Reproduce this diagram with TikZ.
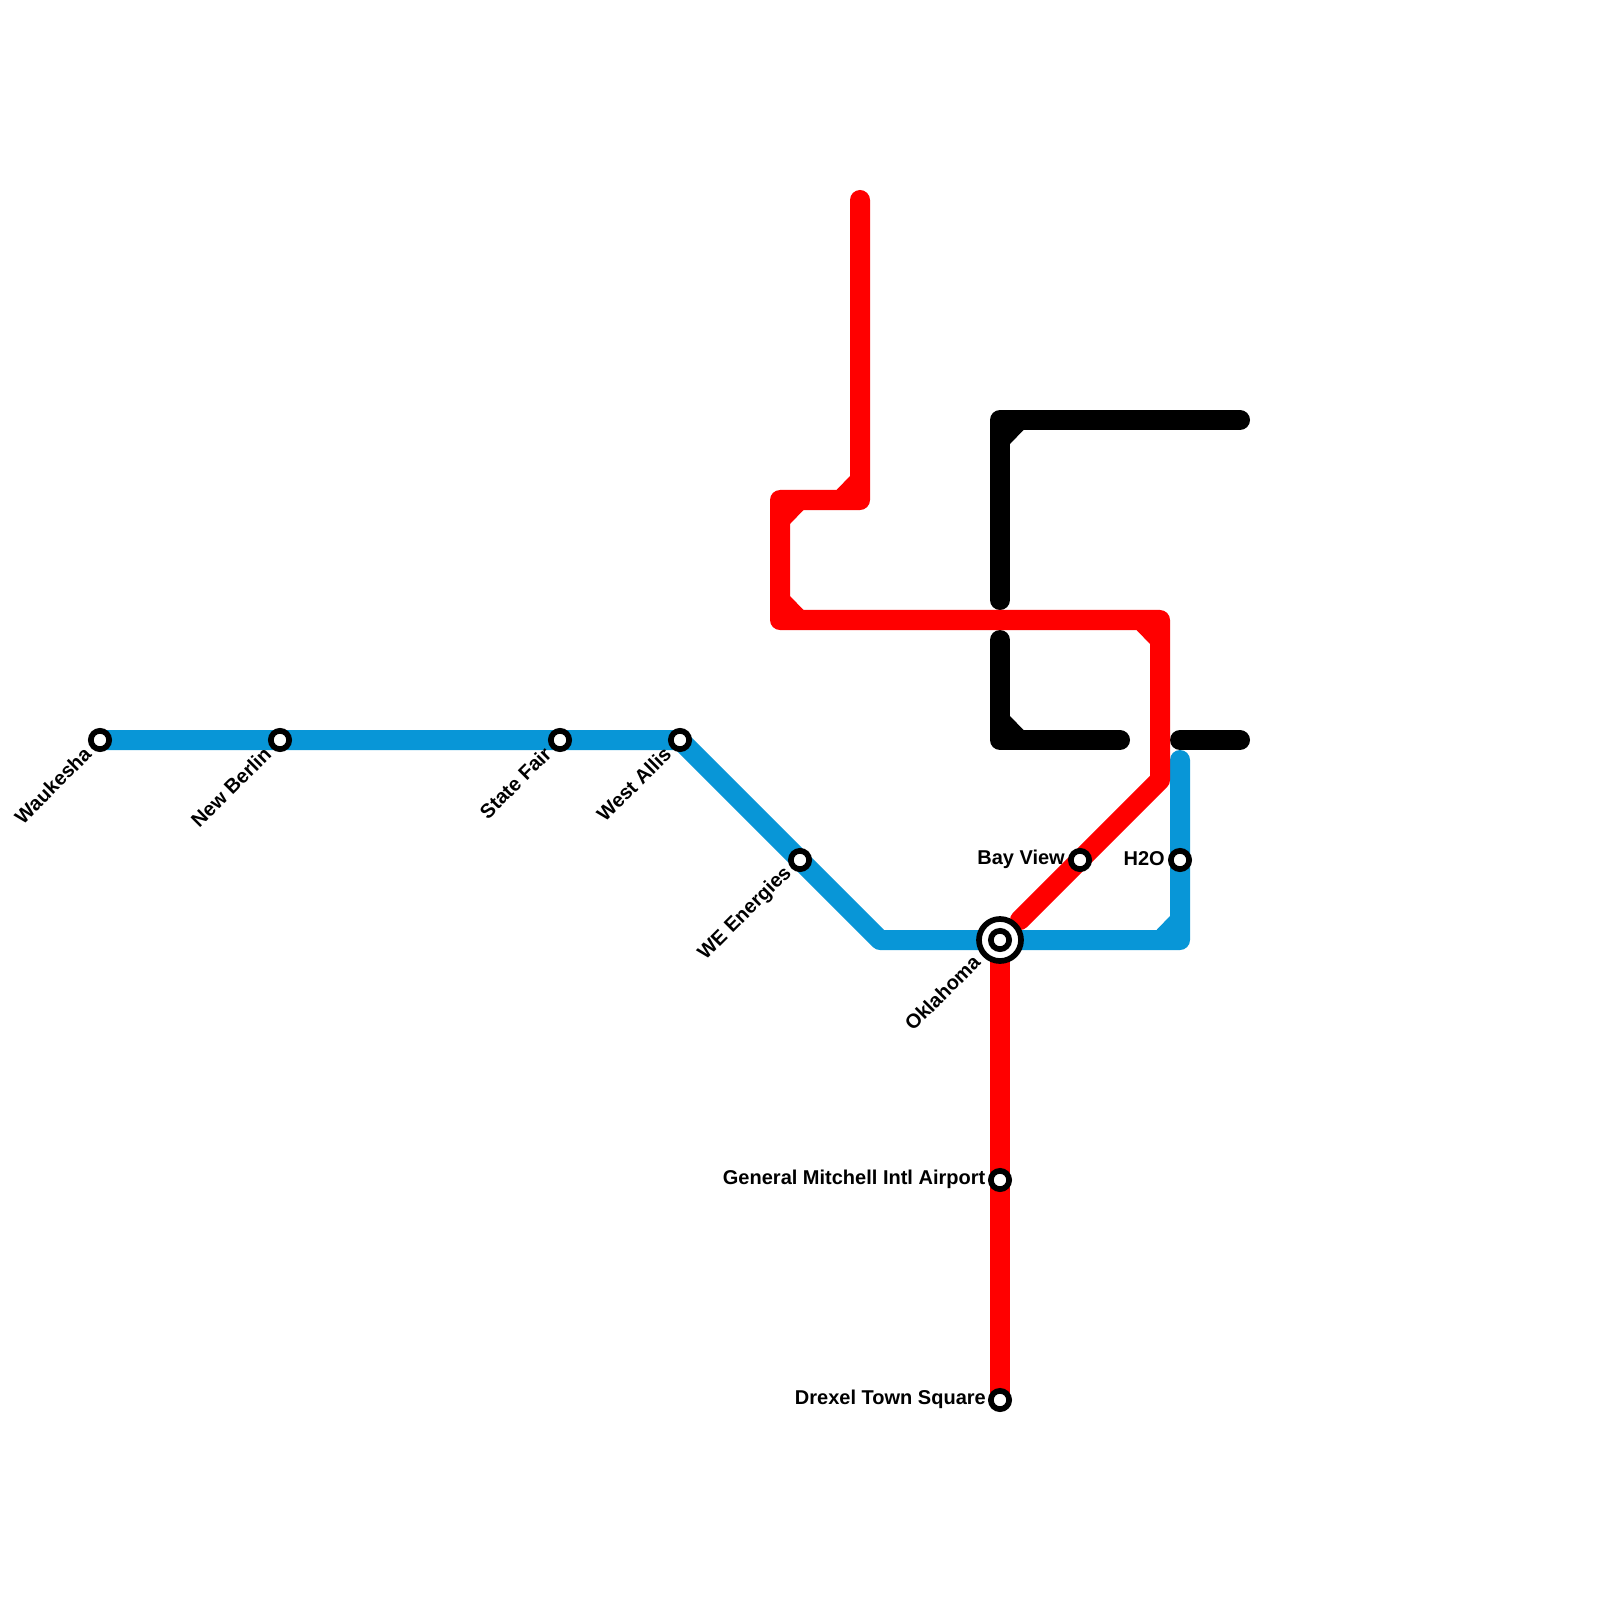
\documentclass[tikz,border=0pt]{standalone}
\usepackage{fontspec}
\setmainfont{Liberation Sans}
\usetikzlibrary{backgrounds}
\definecolor{lineblue}{HTML}{0896D7}
\tikzset{
  route/.style={line width=0.2cm,line cap=round,line join=round},
  blueroute/.style={route,draw=lineblue},
  redroute/.style={route,draw=red},
  blackroute/.style={route,draw=black},
  stn/.style={circle,draw=black,fill=white,line width=0.057cm,minimum size=0.183cm,inner sep=0pt},
  hub/.style={circle,draw=black,fill=white,line width=0.057cm,minimum size=0.42cm,inner sep=0pt},
  lab/.style={font=\fontsize{5.69pt}{7pt}\selectfont\bfseries,inner sep=0pt,text=black},
  dlab/.style={lab,rotate=45,anchor=east},
  hlab/.style={lab,anchor=east},
}
\begin{document}
\begin{tikzpicture}[x=0.01cm,y=-0.01cm]
\useasboundingbox (0,0) rectangle (1600,1600);
% waypoints
\coordinate (b1) at (880,940);
\coordinate (b2) at (1180,940);
\coordinate (b3) at (1180,760);
\coordinate (r0) at (1020,920);
\coordinate (r1) at (1160,780);
\coordinate (r2) at (1160,620);
\coordinate (r3) at (780,620);
\coordinate (r4) at (780,500);
\coordinate (r5) at (860,500);
\coordinate (r6) at (860,200);
\coordinate (k1) at (1000,600);
\coordinate (k2) at (1000,420);
\coordinate (k3) at (1240,420);
\coordinate (k4) at (1000,640);
\coordinate (k5) at (1000,740);
\coordinate (k6) at (1120,740);
\coordinate (k7) at (1180,740);
\coordinate (k8) at (1240,740);
% stations
\node[stn] (wauk) at (100,740) {};
\node[stn] (berl) at (280,740) {};
\node[stn] (fair) at (560,740) {};
\node[stn] (alli) at (680,740) {};
\node[stn] (ener) at (800,860) {};
\node[hub] (oklo) at (1000,940) {};
\node[stn] (okla) at (1000,940) {};
\node[stn] (bayv) at (1080,860) {};
\node[stn] (hwat) at (1180,860) {};
\node[stn] (gmia) at (1000,1180) {};
\node[stn] (drex) at (1000,1400) {};
% labels
\node[dlab] (lwauk) at (88,750) {Waukesha};
\node[dlab] (lberl) at (268,750) {New Berlin};
\node[dlab] (lfair) at (548,750) {State Fair};
\node[dlab] (lalli) at (668,750) {West Allis};
\node[dlab] (lener) at (789,870) {WE Energies};
\node[dlab] (lokla) at (977,958) {Oklahoma};
\node[hlab] (lbayv) at (1065.5,859) {Bay View};
\node[hlab] (lhwat) at (1165.5,859) {H2O};
\node[hlab] (lgmia) at (986,1179.5) {General Mitchell Intl Airport};
\node[hlab] (ldrex) at (986.5,1399.5) {Drexel Town Square};
\begin{pgfonlayer}{background}
% black
\draw[blackroute] (k1) -- (k2) -- (k3);
\fill[black] (k2) ++(10,24) -- ++(13.5,-14) -- (k2) -- cycle;
\draw[blackroute] (k4) -- (k5) -- (k6);
\fill[black] (k5) ++(10,-24) -- ++(13.5,14) -- (k5) -- cycle;
\draw[blackroute] (k7) -- (k8);
% blue
\draw[blueroute] (wauk.center) -- (berl.center) -- (fair.center) -- (alli.center) -- (ener.center) -- (b1) -- (oklo.center) -- (b2) -- (hwat.center) -- (b3);
\fill[lineblue] (b2) ++(-10,-24) -- ++(-13.5,14) -- (b2) -- cycle;
% red
\draw[redroute] (oklo.center) -- (gmia.center) -- (drex.center);
\draw[redroute] (r0) -- (bayv.center) -- (r1) -- (r2) -- (r3) -- (r4) -- (r5) -- (r6);
\fill[red] (r2) ++(-10,24) -- ++(-13.5,-14) -- (r2) -- cycle;
\fill[red] (r3) ++(10,-24) -- ++(13.5,14) -- (r3) -- cycle;
\fill[red] (r4) ++(10,24) -- ++(13.5,-14) -- (r4) -- cycle;
\fill[red] (r5) ++(-10,-24) -- ++(-13.5,14) -- (r5) -- cycle;
\end{pgfonlayer}
\end{tikzpicture}
\end{document}
